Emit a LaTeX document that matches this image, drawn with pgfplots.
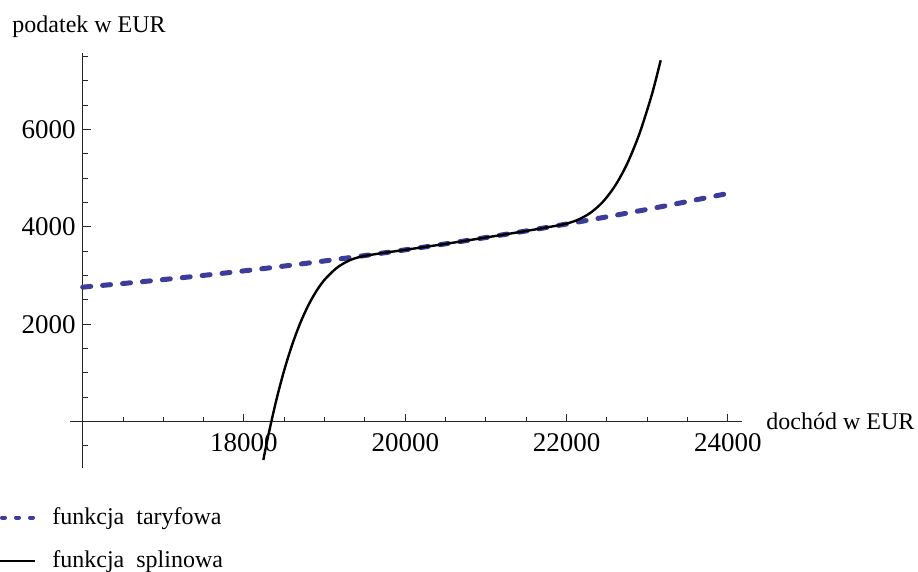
\documentclass[border=0pt]{standalone}
\usepackage{fontspec}
\setmainfont{Liberation Serif}
\usepackage{pgfplots}
\pgfplotsset{compat=1.18}
\definecolor{mblue}{RGB}{61,61,153}
\begin{document}
\begin{tikzpicture}
\begin{axis}[
  scale only axis,
  width=329.65pt, height=207.5pt,
  xmin=16000, xmax=24175,
  ymin=-952, ymax=7570,
  axis x line*=middle,
  axis y line*=left,
  axis line style={black!85, line width=0.5pt},
  clip=false,
  scaled x ticks=false,
  scaled y ticks=false,
  xtick={18000,20000,22000,24000},
  minor xtick={16500,17000,17500,18500,19000,19500,20500,21000,21500,22500,23000,23500},
  ytick={2000,4000,6000},
  minor ytick={-500,500,1000,1500,2500,3000,3500,4500,5000,5500,6500,7000,7500},
  tick align=inside,
  major tick length=4pt,
  minor tick length=2.5pt,
  tick style={black!85, line width=0.5pt},
  /pgf/number format/assume math mode=true,
  /pgf/number format/1000 sep={},
  ticklabel style={font=\fontsize{13.5}{16}\selectfont},
  xticklabel style={yshift=-2.5pt},
  xlabel={dochód w EUR},
  ylabel={podatek w EUR},
  xlabel style={font=\fontsize{12}{14}\selectfont, anchor=west, at={(axis description cs:1,0.1117)}, xshift=12pt, inner sep=0pt},
  ylabel style={font=\fontsize{12}{14}\selectfont, rotate=-90, anchor=base west, at={(axis description cs:-0.1072,1.0482)}, inner sep=0pt},
]
\addplot[mblue, line width=2.5pt, line cap=round, dash pattern=on 4pt off 6pt, smooth] coordinates {
(16000,2762) (16500,2836) (17000,2917) (17500,3003) (18000,3096) (18500,3195)
(19000,3300) (19500,3411) (20000,3528) (20500,3651) (21000,3781) (21500,3916)
(22000,4058) (22500,4206) (23000,4359) (23500,4520) (24000,4686)
};
\addplot[black, line width=1.2pt, smooth] coordinates {
(18240,-787) (18300,-294) (18400,437) (18500,1063) (18600,1592) (18700,2034)
(18800,2396) (18900,2687) (19000,2915) (19150,3157) (19300,3306) (19450,3388)
(19650,3445) (19800,3482) (20000,3528) (20500,3651) (21000,3781) (21500,3916)
(21800,4001) (22000,4067) (22150,4152) (22300,4293) (22450,4514) (22600,4839)
(22750,5292) (22900,5897) (23035,6590) (23100,6979) (23167,7420)
};
\draw[black!85, line width=0.5pt] (axis cs:15843,0) -- (axis cs:16000,0);
\coordinate (ll) at (rel axis cs:0,0);
\end{axis}
% legend
\draw[mblue, line width=2pt, line cap=round, dash pattern=on 1.5pt off 5.5pt]
  ([xshift=-40.35pt,yshift=-24.85pt]ll) -- ++(16.5pt,0pt);
\node[anchor=base west, inner sep=0pt, font=\fontsize{12}{14}\selectfont]
  at ([xshift=-15.35pt,yshift=-28.5pt]ll) {funkcja\ \ taryfowa};
\draw[black, line width=1pt]
  ([xshift=-41.35pt,yshift=-46.35pt]ll) -- ++(17.5pt,0pt);
\node[anchor=base west, inner sep=0pt, font=\fontsize{12}{14}\selectfont]
  at ([xshift=-15.35pt,yshift=-49.7pt]ll) {funkcja\ \ splinowa};
\pgfresetboundingbox
\path[use as bounding box] ([xshift=-41.35pt,yshift=-52pt]ll) rectangle ++(459pt,286pt);
\end{tikzpicture}
\end{document}
